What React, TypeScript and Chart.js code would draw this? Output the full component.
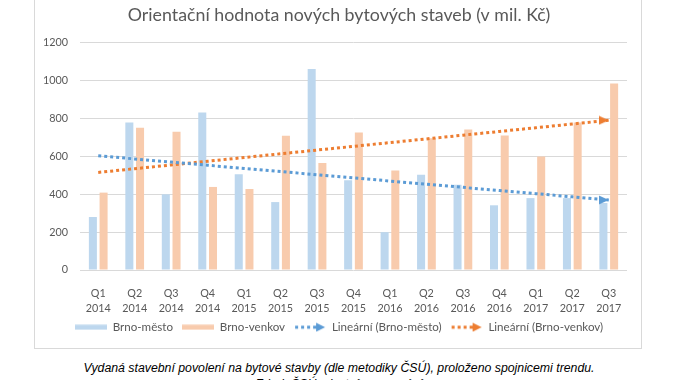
import React, { useEffect, useRef } from "react";
import { Chart, registerables } from "chart.js";

Chart.register(...registerables);

const TITLE = "Orientační hodnota nových bytových staveb (v mil. Kč)";
const CAPTION = "Vydaná stavební povolení na bytové stavby (dle metodiky ČSÚ), proloženo spojnicemi trendu.";
const SOURCE = "Zdroj: ČSÚ, vlastní zpracování";

const categories: string[][] = [
  ["Q1", "2014"], ["Q2", "2014"], ["Q3", "2014"], ["Q4", "2014"],
  ["Q1", "2015"], ["Q2", "2015"], ["Q3", "2015"], ["Q4", "2015"],
  ["Q1", "2016"], ["Q2", "2016"], ["Q3", "2016"], ["Q4", "2016"],
  ["Q1", "2017"], ["Q2", "2017"], ["Q3", "2017"],
];

const brnoMesto = [280, 779, 400, 832, 506, 359, 1062, 474, 200, 504, 451, 342, 380, 380, 354];
const brnoVenkov = [409, 752, 731, 439, 428, 710, 566, 727, 526, 696, 743, 711, 600, 779, 986];

const seriesNames = ["Brno-město", "Brno-venkov", "Lineární (Brno-město)", "Lineární (Brno-venkov)"];

const yMin = 0;
const yMax = 1200;
const yStep = 200;

const BLUE_BAR = "#BDD7EE";
const ORANGE_BAR = "#F8CBAD";
const BLUE_LINE = "#5B9BD5";
const ORANGE_LINE = "#ED7D31";
const TEXT = "#595959";
const GRID = "#D9D9D9";
const FONT = "Lato, 'Open Sans', sans-serif";

function linearTrend(values: number[]): number[] {
  const n = values.length;
  const mx = (n - 1) / 2;
  const my = values.reduce((a, b) => a + b, 0) / n;
  let sxy = 0;
  let sxx = 0;
  values.forEach((v, i) => {
    sxy += (i - mx) * (v - my);
    sxx += (i - mx) * (i - mx);
  });
  const slope = sxy / sxx;
  return values.map((_, i) => my + slope * (i - mx));
}

function makeSwatch(color: string): HTMLCanvasElement {
  const c = document.createElement("canvas");
  c.width = 32;
  c.height = 6;
  const ctx = c.getContext("2d")!;
  ctx.fillStyle = color;
  ctx.fillRect(0, 0.5, 32, 5);
  return c;
}

function makeTrendIcon(color: string): HTMLCanvasElement {
  const c = document.createElement("canvas");
  c.width = 32;
  c.height = 10;
  const ctx = c.getContext("2d")!;
  ctx.fillStyle = color;
  for (let x = 1; x < 22; x += 6) ctx.fillRect(x, 3.5, 3, 3);
  ctx.beginPath();
  ctx.moveTo(22, 0.5);
  ctx.lineTo(31, 5);
  ctx.lineTo(22, 9.5);
  ctx.closePath();
  ctx.fill();
  return c;
}

function makeArrow(color: string): HTMLCanvasElement {
  const c = document.createElement("canvas");
  c.width = 20;
  c.height = 10;
  const ctx = c.getContext("2d")!;
  ctx.fillStyle = color;
  ctx.beginPath();
  ctx.moveTo(0, 0.5);
  ctx.lineTo(10, 5);
  ctx.lineTo(0, 9.5);
  ctx.closePath();
  ctx.fill();
  return c;
}

export default function App() {
  const canvasRef = useRef<HTMLCanvasElement | null>(null);

  useEffect(() => {
    if (!canvasRef.current) return;
    const last = categories.length - 1;
    const blueArrow = makeArrow(BLUE_LINE);
    const orangeArrow = makeArrow(ORANGE_LINE);
    const icons = [
      makeSwatch(BLUE_BAR),
      makeSwatch(ORANGE_BAR),
      makeTrendIcon(BLUE_LINE),
      makeTrendIcon(ORANGE_LINE),
    ];

    const trendDataset = (label: string, values: number[], color: string, arrow: HTMLCanvasElement) => ({
      type: "line" as const,
      label,
      data: linearTrend(values),
      borderColor: color,
      backgroundColor: color,
      borderWidth: 3,
      borderDash: [3, 3],
      borderCapStyle: "butt" as const,
      fill: false,
      tension: 0,
      order: 0,
      yAxisID: "y",
      pointRadius: (ctx: any) => (ctx.dataIndex === last ? 5 : 0),
      pointHoverRadius: 0,
      pointStyle: (ctx: any) => (ctx.dataIndex === last ? arrow : "circle"),
    });

    const chart = new Chart(canvasRef.current, {
      type: "bar",
      data: {
        labels: categories,
        datasets: [
          {
            type: "bar",
            label: seriesNames[0],
            data: brnoMesto,
            backgroundColor: BLUE_BAR,
            borderWidth: 0,
            order: 1,
            yAxisID: "y",
            barPercentage: 0.75,
            categoryPercentage: 0.587,
          },
          {
            type: "bar",
            label: seriesNames[1],
            data: brnoVenkov,
            backgroundColor: ORANGE_BAR,
            borderWidth: 0,
            order: 1,
            yAxisID: "y",
            barPercentage: 0.75,
            categoryPercentage: 0.587,
          },
          trendDataset(seriesNames[2], brnoMesto, BLUE_LINE, blueArrow) as any,
          trendDataset(seriesNames[3], brnoVenkov, ORANGE_LINE, orangeArrow) as any,
        ],
      },
      options: {
        responsive: false,
        maintainAspectRatio: false,
        animation: false,
        layout: { padding: { left: 0, right: 0, top: 0, bottom: 5 } },
        plugins: {
          tooltip: { enabled: false },
          title: {
            display: true,
            text: TITLE,
            color: TEXT,
            font: { family: FONT, size: 17.8, weight: "normal", lineHeight: 1.2 },
            padding: { top: 4.3, bottom: 17.3 },
          },
          legend: {
            display: true,
            position: "bottom",
            labels: {
              usePointStyle: true,
              pointStyleWidth: 32,
              padding: 9,
              color: TEXT,
              font: { family: FONT, size: 11.6 },
              generateLabels: () =>
                seriesNames.map((name, i) => ({
                  text: name,
                  pointStyle: icons[i] as any,
                  fillStyle: "transparent",
                  strokeStyle: "transparent",
                  lineWidth: 0,
                  hidden: false,
                  datasetIndex: i,
                  fontColor: TEXT,
                })),
            },
          },
        },
        scales: {
          x: {
            grid: { display: false },
            border: { display: false },
            ticks: {
              color: TEXT,
              padding: 8,
              maxRotation: 0,
              autoSkip: false,
              font: { family: FONT, size: 10.8, lineHeight: 1.4 },
            },
            afterFit: (s: any) => {
              s.height = 42.4;
            },
          },
          y: {
            position: "left",
            min: yMin,
            max: yMax,
            grid: { color: GRID, lineWidth: 1, drawTicks: false },
            border: { display: false },
            ticks: {
              stepSize: yStep,
              color: TEXT,
              padding: 12,
              font: { family: FONT, size: 10.8 },
              callback: (v: any) => String(v),
            },
            afterFit: (s: any) => {
              s.width = 45;
            },
          },
          spacer: {
            type: "linear",
            position: "right",
            display: true,
            grid: { display: false },
            border: { display: false },
            ticks: { display: false },
            afterFit: (s: any) => {
              s.width = 16;
            },
          },
        },
      },
    });
    return () => chart.destroy();
  }, []);

  return (
    <div>
      <div
        style={{
          position: "absolute",
          left: 34,
          top: -1,
          width: 608,
          height: 350,
          boxSizing: "border-box",
          border: "1px solid #D9D9D9",
          background: "#fff",
        }}
      />
      <canvas
        ref={canvasRef}
        width={608}
        height={348}
        style={{ display: "block", position: "absolute", left: 35, top: 0 }}
      />
      <div
        style={{
          position: "absolute",
          left: 0,
          top: 361,
          width: 678,
          textAlign: "center",
          fontFamily: "'Liberation Sans', Arial, sans-serif",
          fontStyle: "italic",
          fontSize: 12.3,
          lineHeight: "15px",
          color: "#000",
        }}
      >
        <div>{CAPTION}</div>
        <div style={{ marginTop: 1 }}>{SOURCE}</div>
      </div>
    </div>
  );
}
